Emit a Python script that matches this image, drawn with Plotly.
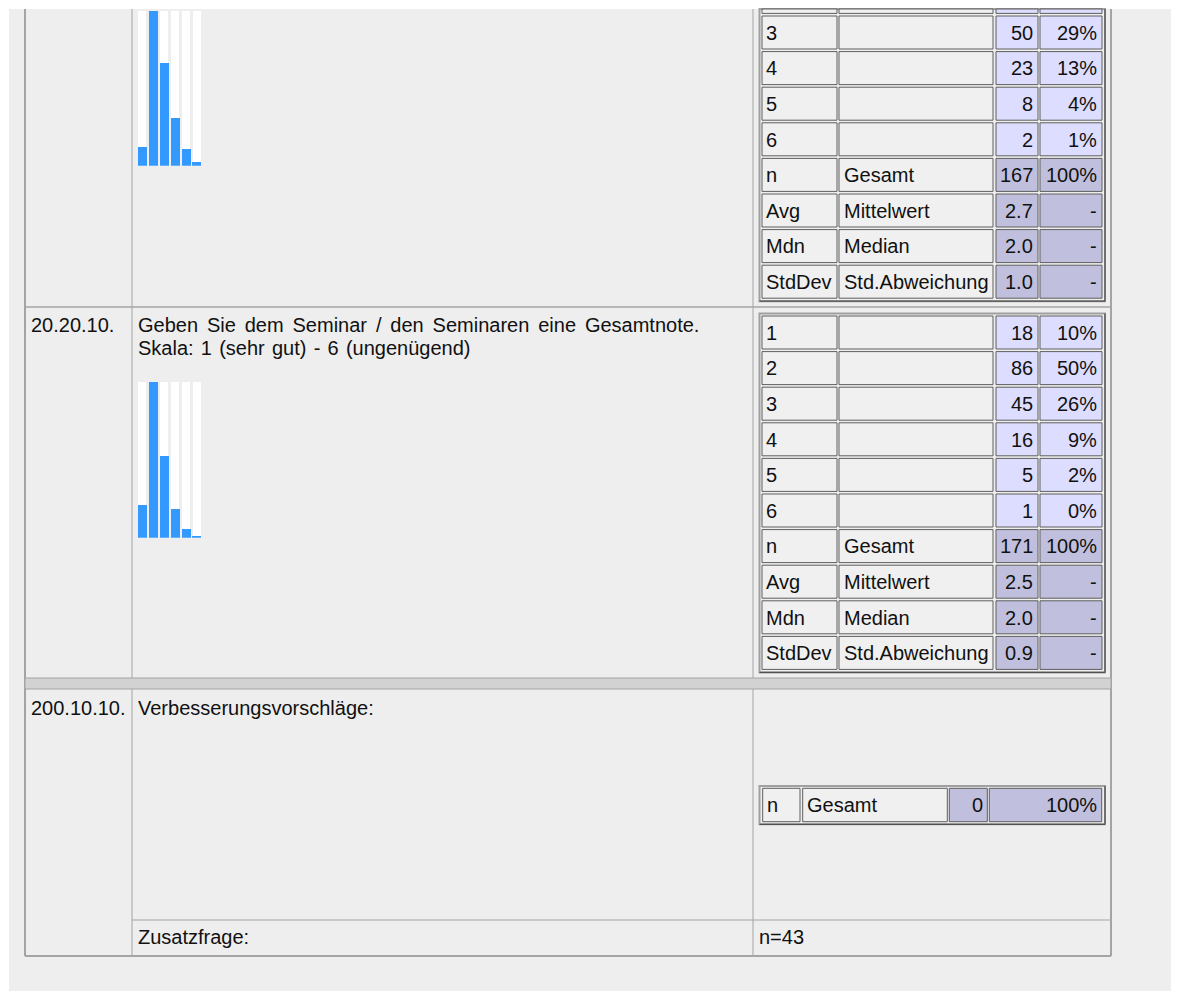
import plotly.graph_objects as go

W, H = 1179, 991
OFF = 8  # the page body margin shifts the figure by 8 px
FONT = "Liberation Sans, Arial, Helvetica, sans-serif"

# ---------------- data ----------------
grades = ["1", "2", "3", "4", "5", "6"]
stat_codes = ["n", "Avg", "Mdn", "StdDev"]
stat_names = ["Gesamt", "Mittelwert", "Median", "Std.Abweichung"]

# previous question (only lower part visible)
q1_counts = [9, 75, 50, 23, 8, 2]
q1_pcts = ["5%", "45%", "29%", "13%", "4%", "1%"]
q1_stats = ["167", "2.7", "2.0", "1.0"]
q1_stat_pcts = ["100%", "-", "-", "-"]

# 20.20.10.
q2_id = "20.20.10."
q2_lines = ["Geben Sie dem Seminar / den Seminaren eine Gesamtnote.",
            "Skala: 1 (sehr gut) - 6 (ungenügend)"]
q2_counts = [18, 86, 45, 16, 5, 1]
q2_pcts = ["10%", "50%", "26%", "9%", "2%", "0%"]
q2_stats = ["171", "2.5", "2.0", "0.9"]
q2_stat_pcts = ["100%", "-", "-", "-"]

# 200.10.10.
q3_id = "200.10.10."
q3_text = "Verbesserungsvorschläge:"
q3_code, q3_name, q3_n, q3_pct = "n", "Gesamt", "0", "100%"
extra_label = "Zusatzfrage:"
extra_n = "n=43"

# ---------------- styles ----------------
PAGE = "#eeeeee"
LABEL = "#f0f0f0"
LIGHT = "#ddddff"
DARK = "#c0c0de"
BLUE = "#3399ff"
GRID = "#a4a4a4"
CELL_LINE = "#5e5e5e"
CLIP = 9

shapes = []
annos = []


def rect(x0, y0, x1, y1, fill=None, line=None, lw=1, layer="below"):
    if y1 <= CLIP:
        return
    y0 = max(y0, CLIP)
    shapes.append(dict(type="rect", xref="x", yref="y", x0=x0, y0=y0, x1=x1, y1=y1,
                       fillcolor=fill or "rgba(0,0,0,0)",
                       line=dict(color=line or "rgba(0,0,0,0)", width=lw if line else 0),
                       layer=layer))


def seg(x0, y0, x1, y1, color=GRID, lw=1):
    if max(y0, y1) <= CLIP:
        return
    y0 = max(y0, CLIP)
    y1 = max(y1, CLIP)
    shapes.append(dict(type="line", xref="x", yref="y", x0=x0, y0=y0, x1=x1, y1=y1,
                       line=dict(color=color, width=lw), layer="below"))


def text(x, y, s, anchor="left"):
    annos.append(dict(x=x, y=y, xref="x", yref="y", text=s, showarrow=False,
                      xanchor=anchor, yanchor="middle", borderpad=0, borderwidth=0,
                      font=dict(family=FONT, size=20, color="#111111")))


def widen(s, extra):
    # the page renders word gaps a little wider than a plain space
    return s.replace(" ", " " + extra)


# page background
rect(9, 9, W + 40, H + 40, fill=PAGE)

# outer table grid
seg(25, 9, 25, 956, lw=2)
seg(1111, 9, 1111, 956, lw=2)
for xv in (132, 753):
    seg(xv, 9, xv, 678)
    seg(xv, 689, xv, 956)
seg(25, 307, 1111, 307, lw=1.5)
rect(25, 678, 1111, 689, fill="#d2d2d2", line=GRID, lw=1)
seg(132, 920, 1111, 920)
seg(25, 956, 1111, 956, lw=2)

COLS = [(762, 837), (839, 993), (996, 1038), (1040, 1102)]
PITCH = 35.6
CELL_H = 33


def inner_table(top0, codes, names, vals, pcts, darks):
    n = len(codes)
    t_top = top0 - 2.5
    t_bot = top0 + (n - 1) * PITCH + CELL_H + 3
    rect(759.5, t_top, 1105, t_bot, line="#a0a0a0", lw=2)
    seg(1105, t_top, 1105, t_bot, color="#505050", lw=1.2)
    seg(759.5, t_bot, 1105, t_bot, color="#505050", lw=1.2)
    for i in range(n):
        y0 = top0 + i * PITCH
        y1 = y0 + CELL_H
        fills = [LABEL, LABEL, DARK if darks[i] else LIGHT, DARK if darks[i] else LIGHT]
        for (x0, x1), f in zip(COLS, fills):
            rect(x0, y0, x1, y1, fill=f, line=CELL_LINE, lw=1)
        if y0 + 16.8 > 22:
            yc = y0 + 16.8
            text(766, yc, codes[i])
            if names[i]:
                text(844, yc, names[i])
            text(1033, yc, vals[i], "right")
            text(1097, yc, pcts[i], "right")


inner_table(16 - 2 * PITCH, grades + stat_codes, [""] * 6 + stat_names,
            [str(v) for v in q1_counts] + q1_stats, q1_pcts + q1_stat_pcts,
            [False] * 6 + [True] * 4)
inner_table(316, grades + stat_codes, [""] * 6 + stat_names,
            [str(v) for v in q2_counts] + q2_stats, q2_pcts + q2_stat_pcts,
            [False] * 6 + [True] * 4)

# question texts
text(31, 324.5, q2_id)
text(138, 324.5, widen(q2_lines[0], "\u2006"))
text(138, 348, widen(q2_lines[1], "\u200a"))
text(31, 708, q3_id)
text(138, 708, q3_text)
text(138, 937, extra_label)
text(759, 937, extra_n)

# single-row table of open question
rect(759.5, 786, 1105, 824.3, line="#a0a0a0", lw=2)
seg(1105, 786, 1105, 824.3, color="#505050", lw=1.2)
seg(759.5, 824.3, 1105, 824.3, color="#505050", lw=1.2)
oc = [(762.7, 800), (802.7, 947.3), (949.3, 987.3), (989.3, 1101.7)]
of = [LABEL, LABEL, DARK, DARK]
for (x0, x1), f in zip(oc, of):
    rect(x0, 788.3, x1, 821.7, fill=f, line=CELL_LINE, lw=1)
text(766.5, 804.5, q3_code)
text(806.5, 804.5, q3_name)
text(982.7, 804.5, q3_n, "right")
text(1096.7, 804.5, q3_pct, "right")

# ---------------- bar charts ----------------
fig = go.Figure()


def bars(counts, xa, ya):
    m = max(counts)
    fig.add_trace(go.Bar(x=grades, y=[m] * len(counts), width=0.74,
                         marker=dict(color="#ffffff", line=dict(width=0)),
                         xaxis=xa, yaxis=ya, hoverinfo="skip", showlegend=False))
    fig.add_trace(go.Bar(x=grades, y=counts, width=0.82,
                         marker=dict(color=BLUE, line=dict(width=0)),
                         xaxis=xa, yaxis=ya, showlegend=False))


bars(q1_counts, "x2", "y2")
bars(q2_counts, "x3", "y3")

xd = [(136.6 - OFF) / W, (202.0 - OFF) / W]


def ydom(top, bot):
    return [1 - (bot - OFF) / H, 1 - (top - OFF) / H]


hidden = dict(visible=False, fixedrange=True, showgrid=False, zeroline=False)
fig.update_layout(
    width=W, height=H,
    margin=dict(l=0, r=0, t=0, b=0),
    paper_bgcolor="#ffffff",
    plot_bgcolor="rgba(0,0,0,0)",
    barmode="overlay",
    bargap=0,
    xaxis=dict(range=[OFF, W + OFF], domain=[0, 1], **hidden),
    yaxis=dict(range=[H + OFF, OFF], domain=[0, 1], **hidden),
    xaxis2=dict(range=[-0.5, 5.5], domain=xd, anchor="y2", type="category", **hidden),
    yaxis2=dict(range=[0, max(q1_counts)], domain=ydom(11, 165.7), anchor="x2", **hidden),
    xaxis3=dict(range=[-0.5, 5.5], domain=xd, anchor="y3", type="category", **hidden),
    yaxis3=dict(range=[0, max(q2_counts)], domain=ydom(381.7, 537.7), anchor="x3", **hidden),
    shapes=shapes,
    annotations=annos,
    showlegend=False,
)

fig.write_html("out.html", config={"displayModeBar": False})
